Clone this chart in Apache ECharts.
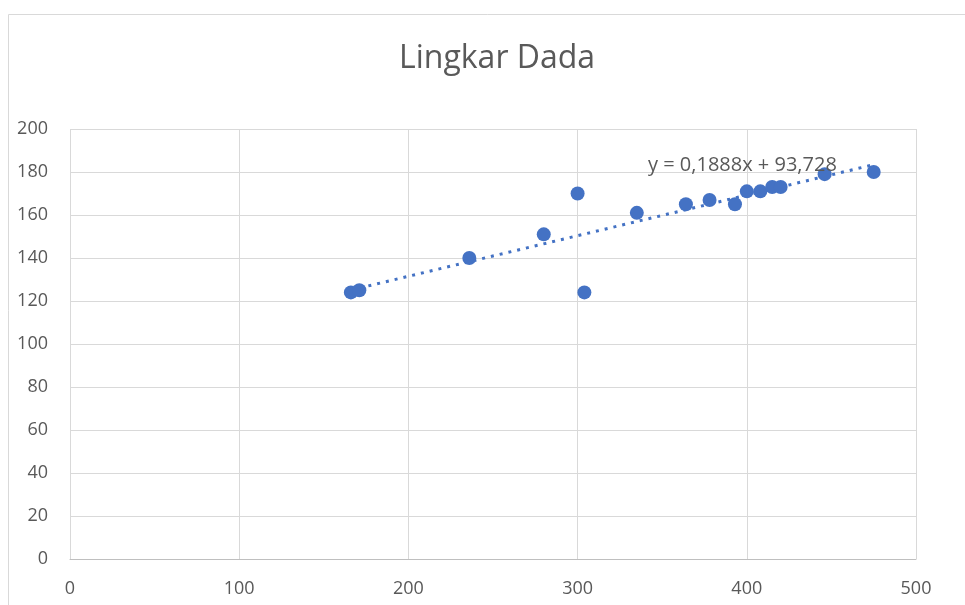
<!DOCTYPE html>
<html>
<head>
<meta charset="utf-8">
<script src="https://cdn.jsdelivr.net/npm/echarts@6/dist/echarts.min.js"></script>
<style>
html,body{margin:0;padding:0;background:#fff;}
#chart{width:965px;height:605px;}
</style>
</head>
<body>
<div id="chart"></div>
<script>
// lingkar dada data
var xVals=[166,171,236,280,300,304,335,364,378,393,400,408,415,420,446,475];
var yVals=[124,125,140,151,170,124,161,165,167,165,171,171,173,173,179,180];
var trendSlope=0.1888;
var trendIntercept=93.728;
var trendText='y = 0,1888x + 93,728';
var xTicks=[0,100,200,300,400,500];
var yTicks=[0,20,40,60,80,100,120,140,160,180,200];

var points=[];
for(var i=0;i<xVals.length;i++){
  points.push([xVals[i],yVals[i]]);
}
var xMin=Math.min.apply(null,xVals);
var xMax=Math.max.apply(null,xVals);
var trend=[[xMin,trendSlope*xMin+trendIntercept],[xMax,trendSlope*xMax+trendIntercept]];

var txt='#595959';
var font='"Open Sans", sans-serif';
var myChart=echarts.init(document.getElementById('chart'));
var option={
  animation:false,
  title:{
    text:'Lingkar Dada',
    left:394,
    top:38,
    textStyle:{fontFamily:font,fontSize:32,fontWeight:'normal',color:txt}
  },
  grid:{left:70,right:49,top:129,bottom:46},
  xAxis:{
    type:'value',min:xTicks[0],max:xTicks[xTicks.length-1],interval:100,
    axisLine:{show:true,lineStyle:{color:'#bfbfbf',width:1}},
    axisTick:{show:false},
    splitLine:{show:true,lineStyle:{color:'#d9d9d9',width:1}},
    axisLabel:{color:txt,fontFamily:font,fontSize:18,margin:21}
  },
  yAxis:{
    type:'value',min:yTicks[0],max:yTicks[yTicks.length-1],interval:20,
    axisLine:{show:false},
    axisTick:{show:false},
    splitLine:{show:true,lineStyle:{color:'#d9d9d9',width:1}},
    axisLabel:{color:txt,fontFamily:font,fontSize:18,margin:22}
  },
  graphic:[
    {type:'rect',shape:{x:8.5,y:14.5,width:1000,height:700},style:{fill:null,stroke:'#d9d9d9',lineWidth:1},silent:true},
    {type:'text',left:648,top:155,style:{text:trendText,fill:txt,font:'20px "Open Sans", sans-serif'},z:10}
  ],
  series:[
    {
      type:'line',data:trend,symbol:'none',
      lineStyle:{color:'#4472C4',width:3,type:[3,6]},
      z:2
    },
    {
      type:'scatter',data:points,symbol:'circle',symbolSize:14,
      itemStyle:{color:'#4472C4',opacity:1},
      z:3
    }
  ]
};
myChart.setOption(option);
</script>
</body>
</html>
